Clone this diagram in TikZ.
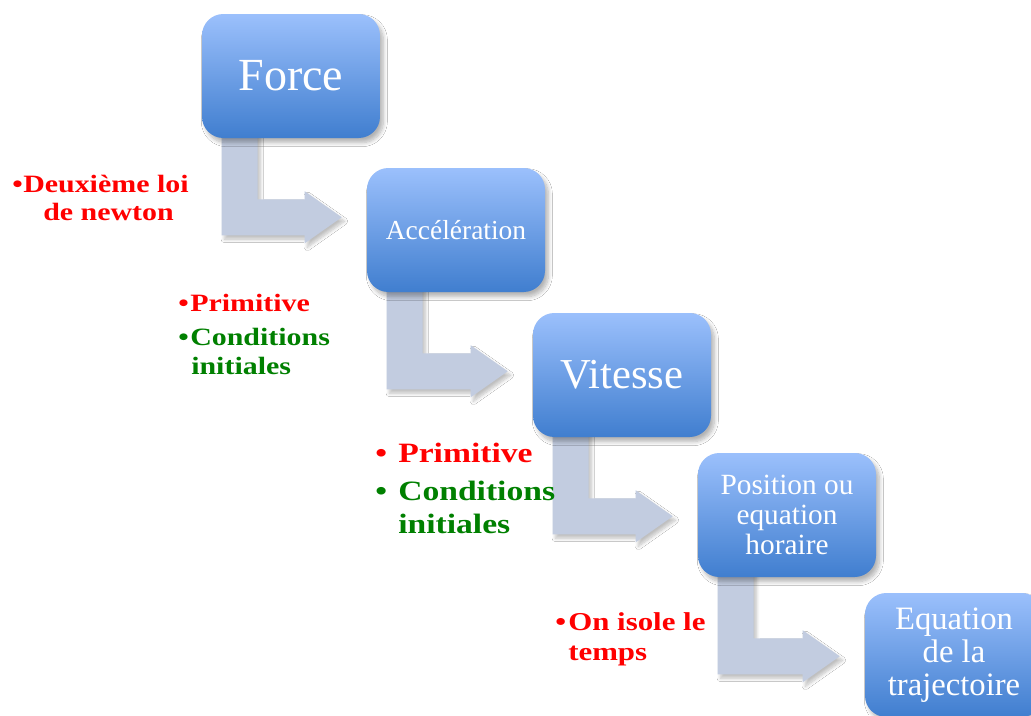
\documentclass[tikz,border=0pt]{standalone}
\usepackage{fontspec}
\setmainfont{Liberation Serif}
\newfontfamily\labfont[FakeStretch=1.2]{Liberation Serif}
\usetikzlibrary{calc,shadows.blur,backgrounds}
\definecolor{boxtop}{RGB}{155,192,252}
\definecolor{boxbot}{RGB}{64,126,207}
\definecolor{arrowc}{RGB}{194,204,224}
\definecolor{lred}{RGB}{255,0,0}
\definecolor{lgreen}{RGB}{0,128,0}
\tikzset{
  stepbox/.style={rounded corners=16pt, minimum width=133.5pt, minimum height=93pt,
    top color=boxtop, bottom color=boxbot, draw=none, text=white, align=center, inner sep=0pt,
    blur shadow={shadow xshift=2.5pt, shadow yshift=-3.5pt, shadow blur radius=3pt, shadow opacity=30, shadow blur steps=8}},
  bentarrow/.style={fill=arrowc,
    blur shadow={shadow xshift=2pt, shadow yshift=-3pt, shadow blur radius=2.5pt, shadow opacity=25, shadow blur steps=8}},
  lab/.style={anchor=base west, inner sep=0pt},
  labA/.style={lab, font=\labfont\bfseries\fontsize{18.7}{21}\selectfont},
  labB/.style={lab, font=\labfont\bfseries\fontsize{21}{24}\selectfont},
  labC/.style={lab, font=\labfont\bfseries\fontsize{19.3}{22}\selectfont},
}
\newcommand\bentarrowdraw[2]{%
  \coordinate (#1-mid) at ($(#1.south west)+(0,79)$);
  \coordinate (#1-tp) at ($(#2.west)+(-25,0)$);
  \coordinate (#1-tip) at (#1-tp |- #1-mid);
  \path[bentarrow] ($(#1.south west)+(20,-10)$) -- ($(#1.south west)+(20,97)$)
    -- ($(#1-tip)+(-37,18)$) -- ($(#1-tip)+(-37,26)$) -- (#1-tip)
    -- ($(#1-tip)+(-37,-26)$) -- ($(#1-tip)+(-37,-18)$)
    -- ($(#1.south west)+(56,61)$) -- ($(#1.south west)+(56,-10)$) -- cycle;
}
\begin{document}
\begin{tikzpicture}[x=0.75pt,y=-0.75pt]
\clip (0,0) rectangle (1031,715);
% boxes
\node[stepbox, font=\fontsize{34.5}{36}\selectfont] (force) at (291,76) {Force};
\node[stepbox, font=\fontsize{20.6}{22}\selectfont] (acc) at (456,230) {Accélération};
\node[stepbox, font=\fontsize{32}{34}\selectfont] (vit) at (622,375) {Vitesse};
\node[stepbox, font=\fontsize{22}{22.5}\selectfont] (pos) at (787,515) {Position ou\\equation\\horaire};
\node[stepbox, font=\fontsize{24.5}{25}\selectfont] (traj) at (954,655) {Equation\\de la\\trajectoire};
% arrows
\begin{pgfonlayer}{background}
\fill[white] (0,0) rectangle (1031,715);
\bentarrowdraw{force}{acc}
\bentarrowdraw{acc}{vit}
\bentarrowdraw{vit}{pos}
\bentarrowdraw{pos}{traj}
\end{pgfonlayer}
% labels group 1
\node[labA, text=lred] (b1) at (12,192) {•};
\node[labA, text=lred] (t1a) at (23,192) {Deuxième loi};
\node[labA, text=lred] (t1b) at (43,220) {de newton};
% group 2
\node[labA, text=lred] (b2a) at (178,311) {•};
\node[labA, text=lred] (t2a) at (190,311) {Primitive};
\node[labA, text=lgreen] (b2b) at (178,345) {•};
\node[labA, text=lgreen] (t2b) at (190,345) {Conditions};
\node[labA, text=lgreen] (t2c) at (191,374) {initiales};
% group 3
\node[labB, text=lred] (b3a) at (375,462) {•};
\node[labB, text=lred] (t3a) at (398,462) {Primitive};
\node[labB, text=lgreen] (b3b) at (375,500) {•};
\node[labB, text=lgreen] (t3b) at (398,500) {Conditions};
\node[labB, text=lgreen] (t3c) at (398,533) {initiales};
% group 4
\node[labC, text=lred] (b4) at (555,630) {•};
\node[labC, text=lred] (t4a) at (568,630) {On isole le};
\node[labC, text=lred] (t4b) at (568,660) {temps};
\end{tikzpicture}
\end{document}
